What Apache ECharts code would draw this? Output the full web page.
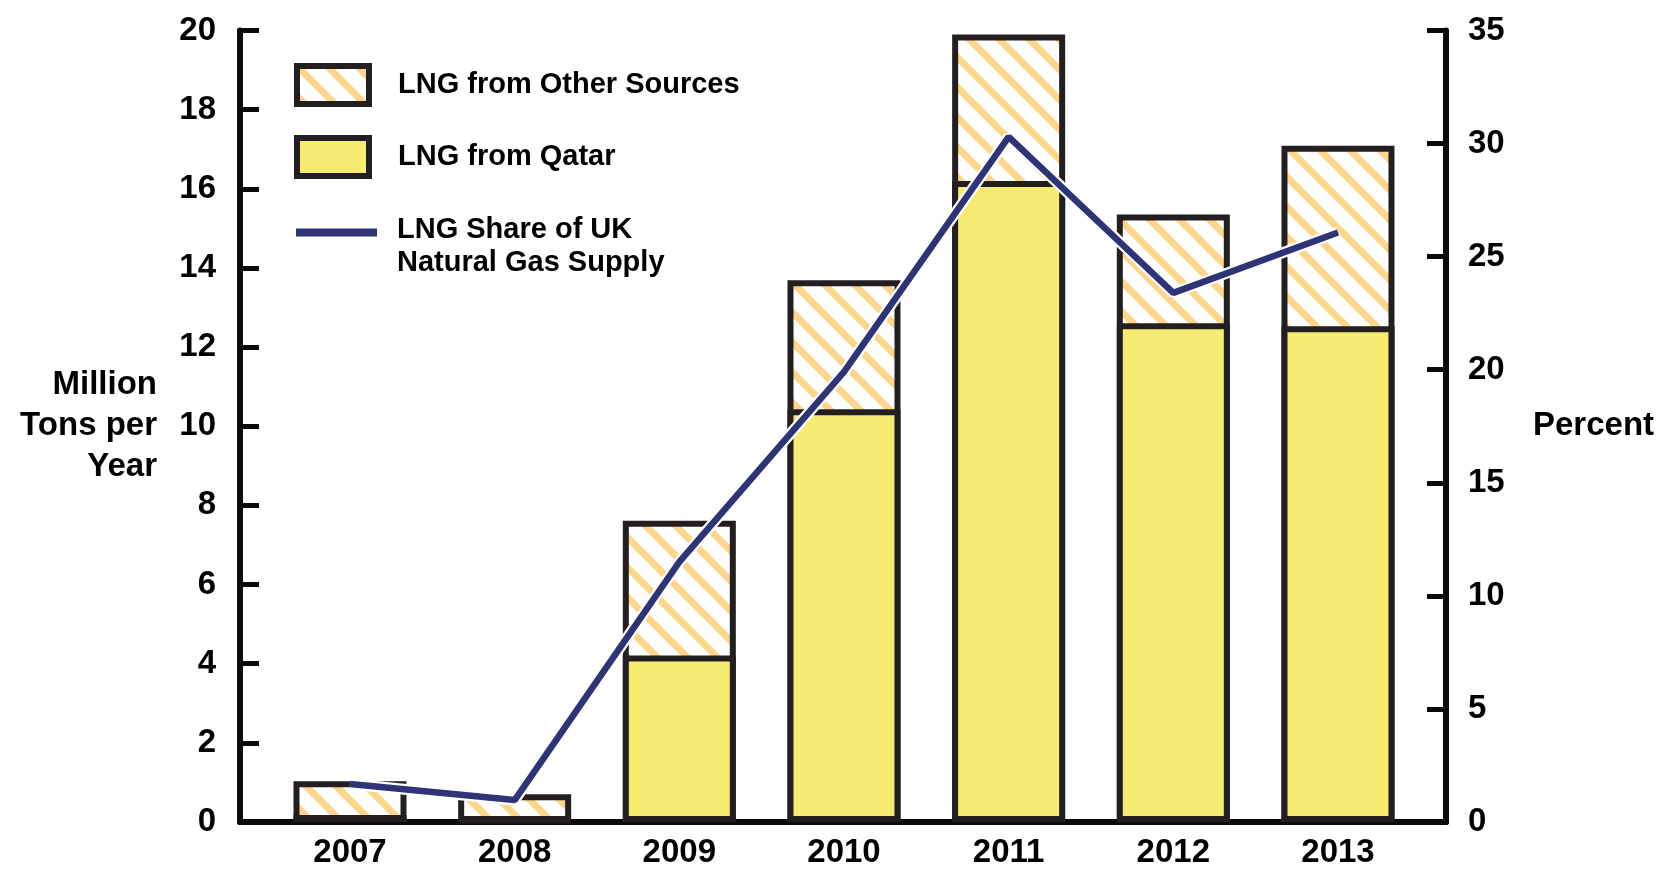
<!DOCTYPE html>
<html>
<head>
<meta charset="utf-8">
<script src="https://cdn.jsdelivr.net/npm/echarts@6/dist/echarts.min.js"></script>
<style>
  html, body { margin: 0; padding: 0; background: #fff; }
  #main { width: 1662px; height: 869px; }
</style>
</head>
<body>
<div id="main"></div>
<script>
// values
const years = ['2007', '2008', '2009', '2010', '2011', '2012', '2013'];
const qatar = [0.18, 0.08, 4.21, 10.43, 16.2, 12.6, 12.53];
const otherSources = [0.85, 0.62, 3.4, 3.26, 3.7, 2.75, 4.56];
const ukShare = [1.68, 0.97, 11.5, 19.9, 30.3, 23.4, 26.07];
const leftTicks = [0, 2, 4, 6, 8, 10, 12, 14, 16, 18, 20];
const rightTicks = [0, 5, 10, 15, 20, 25, 30, 35];

const FONT = "'Liberation Sans', Arial, sans-serif";
const BORDER = '#231f20';
const YELLOW = '#f7ec72';
const NAVY = '#2e3476';

// diagonal hatch used for "other sources"
function makeHatch() {
  const c = document.createElement('canvas');
  c.width = 30;
  c.height = 30;
  const ctx = c.getContext('2d');
  ctx.fillStyle = '#fff';
  ctx.fillRect(0, 0, 30, 30);
  ctx.strokeStyle = '#fdd58b';
  ctx.lineWidth = 7;
  for (let k = -1; k <= 1; k++) {
    ctx.beginPath();
    ctx.moveTo(-5, -5 + k * 30);
    ctx.lineTo(35, 35 + k * 30);
    ctx.stroke();
  }
  return c;
}

const idx = years.map((y, i) => i);
const pairs = arr => arr.map((v, i) => [idx[i], v]);
// the hatched bar is drawn from 0 to the total, the Qatar bar covers its lower part
const totals = qatar.map((q, i) => q + otherSources[i]);

const chart = echarts.init(document.getElementById('main'));

const labelStyle = { color: '#000', fontFamily: FONT, fontWeight: 'bold', fontSize: 33 };
const legendText = { color: '#000', fontFamily: FONT, fontWeight: 'bold', fontSize: 29 };
const axisLineStyle = { color: '#0a0a0a', width: 6 };

chart.setOption({
  animation: false,
  backgroundColor: '#fff',
  grid: { left: 240, right: 216, top: 30.5, bottom: 45 },
  legend: [
    {
      data: ['LNG from Other Sources'],
      left: 294, top: 63, padding: 0,
      itemWidth: 72, itemHeight: 38,
      icon: 'rect',
      itemStyle: { borderColor: BORDER, borderWidth: 6 },
      textStyle: Object.assign({ padding: [0, 0, 0, 24] }, legendText),
      selectedMode: false
    },
    {
      data: ['LNG from Qatar'],
      left: 294, top: 135, padding: 0,
      itemWidth: 72, itemHeight: 38,
      icon: 'rect',
      itemStyle: { borderColor: BORDER, borderWidth: 6 },
      textStyle: Object.assign({ padding: [0, 0, 0, 24] }, legendText),
      selectedMode: false
    },
    {
      data: ['LNG Share of UK Natural Gas Supply'],
      left: 296, top: 213, padding: 0,
      itemWidth: 81, itemHeight: 66,
      icon: 'path://M0,0L1,0L1,0Z M0,15.5L81,15.5L81,23.5L0,23.5Z M0,66L1,66L1,66Z',
      itemStyle: { color: NAVY, borderWidth: 0 },
      formatter: () => 'LNG Share of UK\nNatural Gas Supply',
      textStyle: Object.assign({ padding: [0, 0, 0, 15], lineHeight: 33 }, legendText),
      selectedMode: false
    }
  ],
  xAxis: {
    type: 'value',
    min: -0.668,
    max: 6.656,
    splitLine: { show: false },
    axisLine: { show: true, onZero: false, lineStyle: axisLineStyle },
    axisTick: { show: false },
    axisLabel: Object.assign({
      customValues: idx,
      margin: 14,
      formatter: v => years[Math.round(v)]
    }, labelStyle)
  },
  yAxis: [
    {
      type: 'value',
      min: leftTicks[0],
      max: leftTicks[leftTicks.length - 1],
      interval: 2,
      position: 'left',
      name: 'Million\nTons per\nYear',
      nameLocation: 'middle',
      nameRotate: 0,
      nameGap: 83,
      nameTextStyle: Object.assign({ align: 'right', verticalAlign: 'middle', lineHeight: 41 }, labelStyle),
      splitLine: { show: false },
      axisLine: { show: true, onZero: false, lineStyle: axisLineStyle },
      axisTick: { show: true, inside: true, length: 19, lineStyle: { color: '#0a0a0a', width: 5 } },
      axisLabel: Object.assign({ margin: 24 }, labelStyle)
    },
    {
      type: 'value',
      min: rightTicks[0],
      max: rightTicks[rightTicks.length - 1],
      interval: 5,
      position: 'right',
      name: 'Percent',
      nameLocation: 'middle',
      nameRotate: 0,
      nameGap: 87,
      nameTextStyle: Object.assign({ align: 'left', verticalAlign: 'middle' }, labelStyle),
      splitLine: { show: false },
      axisLine: { show: true, onZero: false, lineStyle: axisLineStyle },
      axisTick: { show: true, inside: true, length: 19, lineStyle: { color: '#0a0a0a', width: 5 } },
      axisLabel: Object.assign({ margin: 22 }, labelStyle)
    }
  ],
  series: [
    {
      name: 'LNG from Other Sources',
      type: 'bar',
      barWidth: 113,
      barMaxWidth: 200,
      data: pairs(totals),
      itemStyle: { color: { image: makeHatch(), repeat: 'repeat' }, borderColor: BORDER, borderWidth: 6 },
      z: 2
    },
    {
      name: 'LNG from Qatar',
      type: 'bar',
      barWidth: 113,
      barMaxWidth: 200,
      barGap: '-100%',
      data: pairs(qatar),
      itemStyle: { color: YELLOW, borderColor: BORDER, borderWidth: 6 },
      z: 3
    },
    {
      name: 'casing',
      type: 'line',
      yAxisIndex: 1,
      data: pairs(ukShare),
      symbol: 'none',
      lineStyle: { color: '#fff', width: 11 },
      z: 4
    },
    {
      name: 'LNG Share of UK Natural Gas Supply',
      type: 'line',
      yAxisIndex: 1,
      data: pairs(ukShare),
      symbol: 'none',
      itemStyle: { color: NAVY },
      lineStyle: { color: NAVY, width: 6.5 },
      z: 5
    }
  ]
});
</script>
</body>
</html>
